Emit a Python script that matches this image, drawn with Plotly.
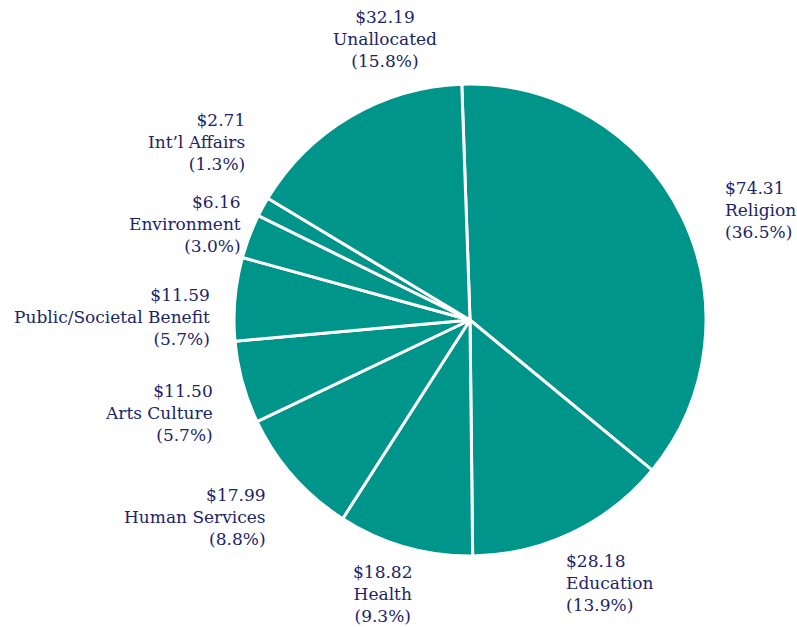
import plotly.graph_objects as go

categories = ["Religion", "Education", "Health", "Human Services", "Arts Culture",
              "Public/Societal Benefit", "Environment", "Int’l Affairs", "Unallocated"]
values = [74.31, 28.18, 18.82, 17.99, 11.50, 11.59, 6.16, 2.71, 32.19]

W, H = 797, 627
# label placement (layout): pixel anchor x, block-centre y, horizontal anchor
label_layout = [
    (723, 210, "left"),
    (564, 583, "left"),
    (382, 594, "center"),
    (268, 517, "right"),
    (215, 413, "right"),
    (212, 317, "right"),
    (243, 224, "right"),
    (247, 142, "right"),
    (385, 39, "center"),
]

TEAL = "#00958B"
NAVY = "#1B2568"
FONT = "DejaVu Serif"

total = sum(values)

fig = go.Figure(go.Pie(
    labels=categories,
    values=values,
    sort=False,
    direction="clockwise",
    rotation=-2,
    marker=dict(colors=[TEAL] * len(values), line=dict(color="white", width=3)),
    textinfo="none",
    hoverinfo="skip",
    showlegend=False,
    domain=dict(x=[(470 - 236) / W, (470 + 236) / W],
                y=[(H - 320 - 237) / H, (H - 320 + 237) / H]),
))

annotations = []
for cat, val, (px, py, anchor) in zip(categories, values, label_layout):
    pct = val / total * 100
    annotations.append(dict(
        x=px / W, y=1 - py / H, xref="paper", yref="paper",
        text=f"${val:.2f}<br>{cat}<br>({pct:.1f}%)",
        showarrow=False, xanchor=anchor, yanchor="middle", align=anchor,
        font=dict(family=FONT, size=17, color=NAVY),
    ))

fig.update_layout(
    width=W, height=H,
    margin=dict(l=0, r=0, t=0, b=0),
    paper_bgcolor="white", plot_bgcolor="white",
    annotations=annotations,
)

fig.write_html("out.html", config={"displayModeBar": False},
               post_script="document.body.style.margin='0';")
